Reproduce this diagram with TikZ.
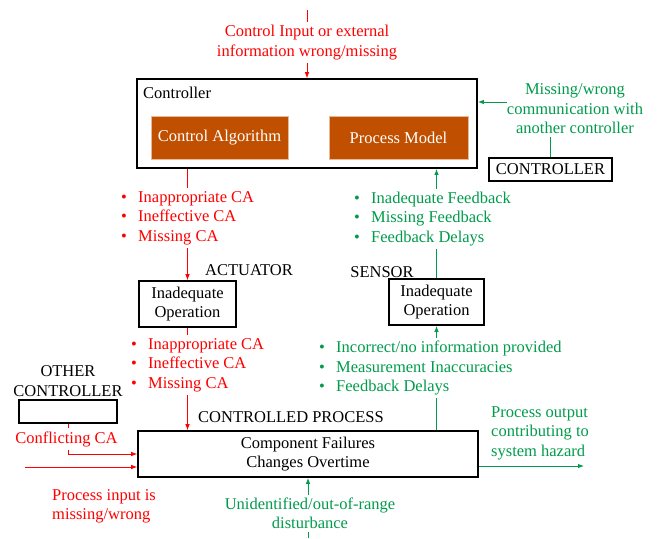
\documentclass[tikz,border=0pt]{standalone}
\usepackage{fontspec}
\setmainfont{Liberation Serif}
\usetikzlibrary{arrows.meta}
\definecolor{errred}{RGB}{255,0,0}
\definecolor{fbgreen}{RGB}{0,155,75}
\definecolor{blockbrown}{RGB}{192,80,0}
\newcommand{\bitem}{\makebox[17pt][l]{\textbullet}}
\tikzset{
	txt/.style={font=\fontsize{16.5}{19.5}\selectfont, inner sep=0pt, inner ysep=3pt},
	block/.style={txt, draw=black, line width=1.6pt, align=center},
	inner block/.style={txt, fill=blockbrown, text=white, draw=blockbrown!40, line width=0.6pt},
	err/.style={txt, text=errred, align=center},
	fb/.style={txt, text=fbgreen, align=center},
	errline/.style={errred, line width=0.8pt},
	fbline/.style={fbgreen, line width=1pt},
}
\begin{document}
\begin{tikzpicture}[x=1pt,y=-1pt,>={Latex[length=6pt,width=4.5pt]}]
		\useasboundingbox (0,0) rectangle (658,538);
		% controller
			\node [block, minimum width=340pt, minimum height=89pt] (ctrl) at (307,123.5) {};
			\node [txt, anchor=west] (ctrllbl) at (143,93) {Controller};
			\node [inner block, minimum width=137pt, minimum height=43pt] (alg) at (219.5,137.5) {Control Algorithm};
			\node [inner block, minimum width=139pt, minimum height=43pt] (model) at (398.5,137.5) {Process Model};
		% control input
			\coordinate (topin) at (307,10);
			\node [err] (ctrlin) at (307,42.5) {Control Input or external\\information wrong/missing};
			\draw [errline] (topin) -- (ctrlin);
			\draw [errline,->] (ctrlin) -- (ctrl);
		% other controller (top right)
			\node [fb] (comm) at (575,109) {Missing/wrong\\communication with\\another controller};
			\node [block, minimum width=123pt, minimum height=23pt] (ctr2) at (550.5,169.5) {CONTROLLER};
			\draw [fbline] (ctr2) -- (ctr2 |- comm.south);
			\draw [fbline,->] ([yshift=7pt]comm.west) -- ([yshift=7pt]comm.west -| ctrl.east);
		% actuator
			\node [block, minimum width=97pt, minimum height=46pt] (act) at (187.5,304) {Inadequate\\Operation};
			\node [txt] (actlbl) at (249,270) {ACTUATOR};
			\node [err, align=left, anchor=west] (cabul1) at (121,218) {\bitem Inappropriate CA\\\bitem Ineffective CA\\\bitem Missing CA};
			\node [err, align=left, anchor=west] (cabul2) at (131,365) {\bitem Inappropriate CA\\\bitem Ineffective CA\\\bitem Missing CA};
		% sensor
			\node [block, minimum width=95pt, minimum height=46pt] (sen) at (436.5,302) {Inadequate\\Operation};
			\node [txt] (senlbl) at (382,272) {SENSOR};
			\node [fb, align=left, anchor=west] (fbbul1) at (354,219) {\bitem Inadequate Feedback\\\bitem Missing Feedback\\\bitem Feedback Delays};
			\node [fb, align=left, anchor=west] (fbbul2) at (319,368) {\bitem Incorrect/no information provided\\\bitem Measurement Inaccuracies\\\bitem Feedback Delays};
		% controlled process
			\node [block, minimum width=340pt, minimum height=46pt] (cp) at (308,454) {Component Failures\\Changes Overtime};
			\node [txt] (cplbl) at (291,417) {CONTROLLED PROCESS};
		% control path
			\draw [errline] (act |- ctrl.south) -- (act |- cabul1.north);
			\draw [errline,->] (act |- cabul1.south) -- (act);
			\draw [errline] (act) -- (act |- cabul2.north);
			\draw [errline,->] (act |- cabul2.south) -- (act |- cp.north);
		% feedback path
			\draw [fbline] (sen |- cp.north) -- (sen |- fbbul2.south);
			\draw [fbline,->] (sen |- fbbul2.north) -- (sen);
			\draw [fbline] (sen) -- (sen |- fbbul1.south);
			\draw [fbline,->] (sen |- fbbul1.north) -- (sen |- ctrl.south);
		% other controller (left)
			\node [txt, align=center] (oclbl) at (68,381) {OTHER\\CONTROLLER};
			\node [block, minimum width=98pt, minimum height=23pt] (oc) at (68,411.5) {};
			\node [err] (confl) at (66.5,439) {Conflicting CA};
			\draw [errline] (oc) -- (oc |- confl.north);
			\draw [errline,->] (oc |- confl.south) |- (cp.west);
		% process input
			\coordinate (procin) at (25,467);
			\draw [errline,->] (procin) -- (procin -| cp.west);
			\node [err, align=left, anchor=west] (procinlbl) at (52,506.5) {Process input is\\missing/wrong};
		% process output
			\coordinate (procout) at (584,466);
			\draw [fbline,->] (procout -| cp.east) -- (procout);
			\node [fb, align=left, anchor=west] (outlbl) at (491,433) {Process output\\contributing to\\system hazard};
		% disturbance
			\node [fb] (dist) at (310,513.5) {Unidentified/out-of-range\\disturbance};
			\coordinate (distin) at (308,538);
			\draw [fbline] (distin) -- (distin |- dist.south);
			\draw [fbline,->] (distin |- dist.north) -- (distin |- cp.south);
	\end{tikzpicture}
\end{document}
